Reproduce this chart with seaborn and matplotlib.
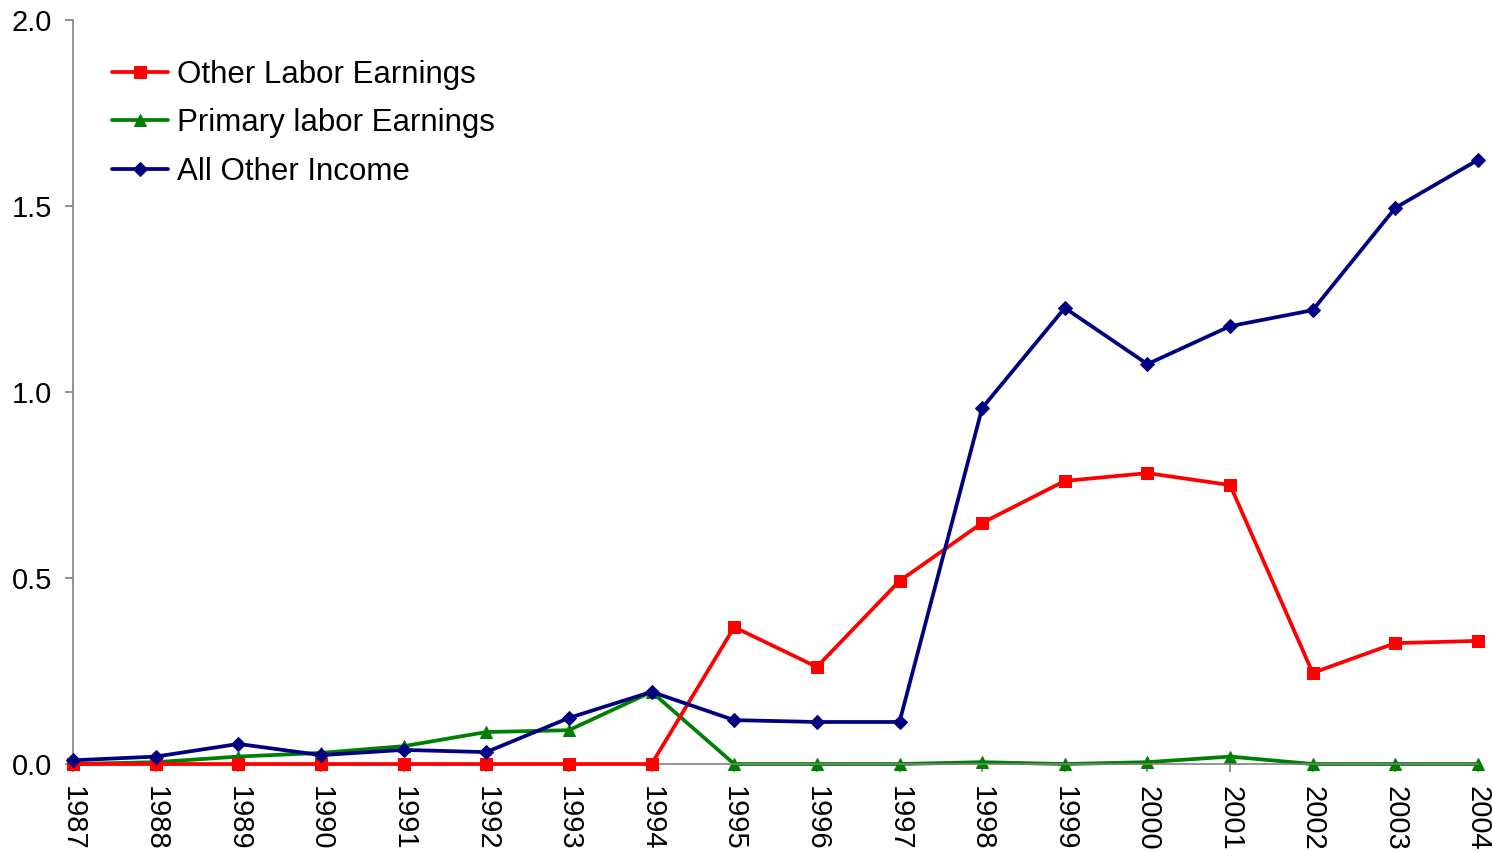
import pandas as pd
import numpy as np
import matplotlib.pyplot as plt
import seaborn as sns

# Values
years = list(range(1987, 2005))
other_labor = [0.0, 0.0, 0.0, 0.0, 0.0, 0.0, 0.0, 0.0, 0.368, 0.261, 0.492,
               0.648, 0.761, 0.782, 0.750, 0.245, 0.325, 0.331]
primary_labor = [0.0, 0.005, 0.02, 0.03, 0.048, 0.086, 0.091, 0.194, 0.0, 0.0,
                 0.0, 0.005, 0.0, 0.005, 0.02, 0.0, 0.0, 0.0]
all_other = [0.01, 0.02, 0.054, 0.024, 0.038, 0.032, 0.124, 0.194, 0.118, 0.113,
             0.113, 0.957, 1.226, 1.075, 1.177, 1.220, 1.495, 1.624]

series = [
    ("Other Labor Earnings", other_labor, "#FF0000", "s", 8, 3),
    ("Primary labor Earnings", primary_labor, "#008000", "^", 9, 2),
    ("All Other Income", all_other, "#000080", "D", 7, 4),
]

sns.set_style("white")
plt.rcParams['font.family'] = ['Liberation Sans', 'DejaVu Sans']
plt.rcParams['text.color'] = 'black'
plt.rcParams['xtick.color'] = 'black'
plt.rcParams['ytick.color'] = 'black'

fig = plt.figure(figsize=(14.92, 8.51), dpi=100)
ax = fig.add_axes([0.049, 0.1022, 0.9416, 0.8743])

for name, vals, color, marker, ms, z in series:
    df = pd.DataFrame({"year": years, "value": vals})
    sns.lineplot(data=df, x="year", y="value", ax=ax, color=color, marker=marker,
                 markersize=ms, markeredgecolor=color, linewidth=2.7, label=name,
                 zorder=z, clip_on=False)

ax.set_xlim(1987, 2004)
ax.set_ylim(0, 2.0)
ax.set_xticks(years)
ax.set_xticklabels([str(y) for y in years], rotation=-90, fontsize=21)
ax.set_yticks([0.0, 0.5, 1.0, 1.5, 2.0])
ax.set_yticklabels(["0.0", "0.5", "1.0", "1.5", "2.0"], fontsize=21)
ax.set_xlabel("")
ax.set_ylabel("")

for s in ["top", "right"]:
    ax.spines[s].set_visible(False)
for s in ["left", "bottom"]:
    ax.spines[s].set_color("#808080")
    ax.spines[s].set_linewidth(1.2)
ax.tick_params(axis="both", which="major", direction="out", length=6,
               width=1.2, color="#808080", left=True, bottom=True,
               labelcolor="black")
ax.tick_params(axis="y", pad=9)
ax.tick_params(axis="x", pad=10)

leg = ax.legend(loc="upper left", bbox_to_anchor=(0.014, 0.972), frameon=False,
                fontsize=22.5, handlelength=1.8, handletextpad=0.3, labelspacing=0.6,
                borderaxespad=0.2)

fig.savefig("out.png", dpi=100)
